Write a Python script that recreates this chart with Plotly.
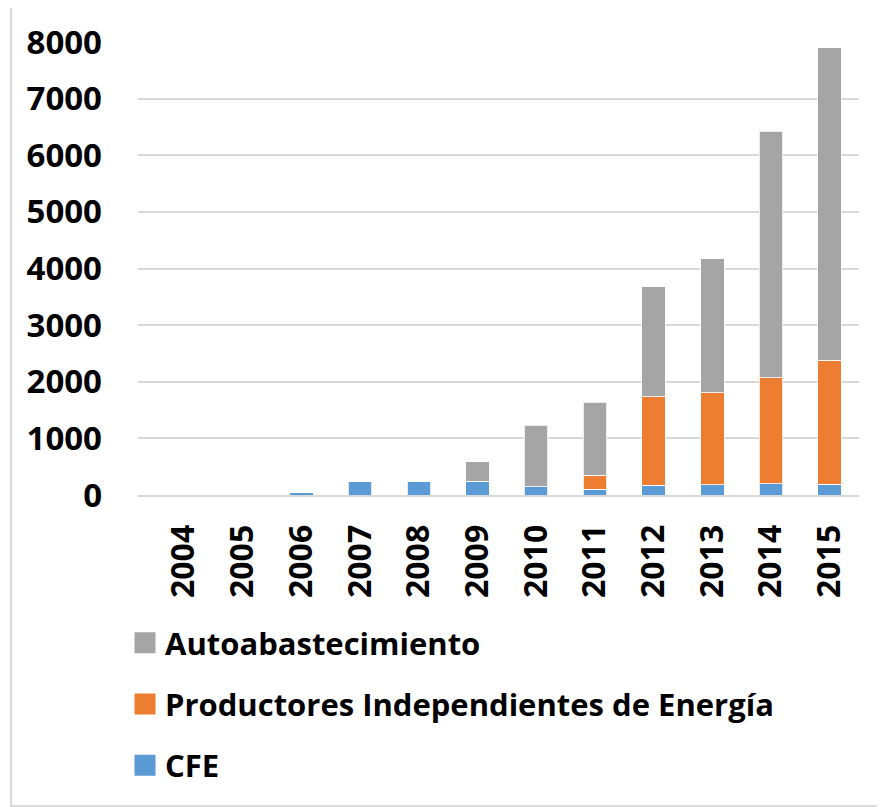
import plotly.graph_objects as go

years = ["2004", "2005", "2006", "2007", "2008", "2009", "2010", "2011", "2012", "2013", "2014", "2015"]
cfe = [0, 0, 40, 242, 247, 242, 147, 100, 171, 177, 200, 194]
pie = [0, 0, 0, 0, 0, 0, 0, 248, 1566, 1630, 1872, 2186]
auto = [0, 0, 0, 0, 0, 346, 1084, 1290, 1943, 2368, 4354, 5518]

names = ["CFE", "Productores Independientes de Energía", "Autoabastecimiento"]
colors = ["#5B9BD5", "#ED7D31", "#A5A5A5"]
series = [cfe, pie, auto]

fig = go.Figure()
for name, col, vals in zip(names, colors, series):
    fig.add_trace(go.Bar(x=years, y=vals, name=name, marker_color=col,
                         marker_line=dict(color="rgba(255,255,255,0.8)", width=1),
                         showlegend=False))

# legend entries with bigger swatches (top of stack listed first)
for name, col in reversed(list(zip(names, colors))):
    fig.add_trace(go.Scatter(x=[years[0]], y=[None], mode="markers", name=name,
                             marker=dict(symbol="square", size=16, color=col,
                                         line=dict(color=col, width=5)),
                             legendgroup=name))

# page body has an 8px margin, so the figure is 8px smaller than the window
font = "Open Sans"
fig.update_layout(
    barmode="stack",
    bargap=0.6,
    width=877, height=799,
    margin=dict(l=130, r=26, t=34, b=312, autoexpand=False),
    paper_bgcolor="white", plot_bgcolor="white",
    font=dict(family=font, color="black"),
    legend=dict(traceorder="grouped",
                x=(125 - 138) / 721, y=(495 - 616) / 453, xanchor="left", yanchor="top",
                font=dict(size=31, family=font, weight="bold"),
                tracegroupgap=18, itemwidth=30),
    shapes=[dict(type="rect", xref="paper", yref="paper",
                 x0=(11 - 138) / 721, x1=(890 - 138) / 721,
                 y0=(495 - 806) / 453, y1=(495 - 6) / 453,
                 line=dict(color="#D9D9D9", width=2))],
)
fig.update_yaxes(range=[0, 8000], dtick=1000, showgrid=True, gridcolor="#D9D9D9",
                 gridwidth=1.5, zeroline=False,
                 tickfont=dict(size=33, family=font, weight="bold"),
                 ticklabelstandoff=35)
fig.update_xaxes(tickangle=-90, showline=True, linecolor="#D9D9D9", linewidth=2,
                 tickfont=dict(size=32, family=font, weight="bold"),
                 ticklabelstandoff=15)

fig.write_html("out.html")
